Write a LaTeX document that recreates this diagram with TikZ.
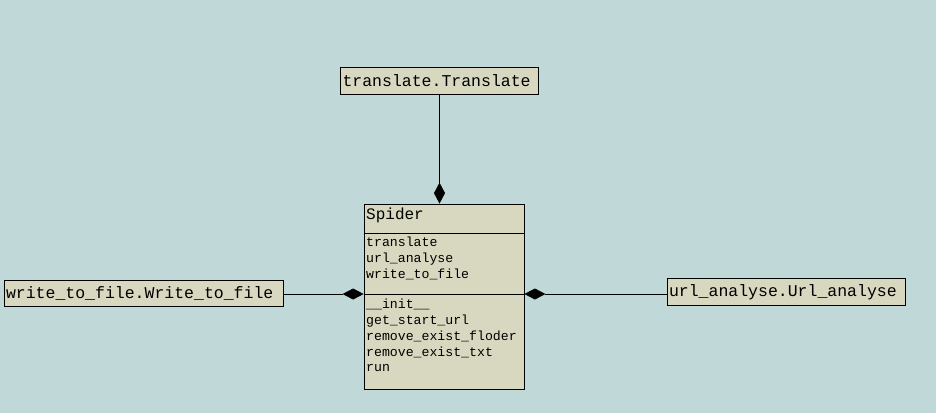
\documentclass[tikz,border=0pt]{standalone}
\usepackage{fontspec}
\newfontfamily\umlfont{Liberation Mono}
\usetikzlibrary{arrows.meta}

\definecolor{umlbg}{RGB}{192,216,216}
\definecolor{umlfill}{RGB}{216,216,192}

\tikzset{
    classbox/.style={draw=black, fill=umlfill, line width=0.8pt, inner ysep=0pt, inner xsep=2pt,
        align=left, font=\umlfont\fontsize{16.5}{18}\selectfont},
    members/.style={anchor=north west, align=left, inner sep=0pt,
        font=\umlfont\fontsize{13.2}{15.8}\selectfont},
    composition/.style={line width=0.8pt, -{Diamond[length=21pt,width=11pt]}},
}

\begin{document}
\begin{tikzpicture}[x=1pt,y=-1pt]

    \fill[umlbg] (0,0) rectangle (936,413);
    \useasboundingbox (0,0) rectangle (936,413);

    \node[classbox, text width=194pt, minimum height=27pt] (translate) at (439.5,80.5) {translate.Translate};
    \node[classbox, text width=275pt, minimum height=26pt] (writer) at (143.5,293) {write\_to\_file.Write\_to\_file};
    \node[classbox, text width=234pt, minimum height=27pt] (analyser) at (786,292) {url\_analyse.Url\_analyse};

    % Spider class and its compartments
    \node[classbox, minimum width=160pt, minimum height=185pt, inner sep=0pt] (spider) at (444,296.5) {};
    \draw[line width=0.8pt] (spider.west |- 0,233) -- (spider.east |- 0,233);
    \draw[line width=0.8pt] (spider.west |- 0,294) coordinate (opsW) -- (spider.east |- 0,294) coordinate (opsE);
    \node[members, anchor=west, font=\umlfont\fontsize{16}{18}\selectfont] (title) at (366,215) {Spider};
    \node[members] (attrs) at (366,237) {translate\\url\_analyse\\write\_to\_file};
    \node[members] (ops) at (366,299) {\_\_init\_\_\\get\_start\_url\\remove\_exist\_floder\\remove\_exist\_txt\\run};

    \draw[composition] (translate.south) -- (translate.south |- spider.north);
    \draw[composition] (writer.east |- opsW) -- (opsW);
    \draw[composition] (analyser.west |- opsE) -- (opsE);

\end{tikzpicture}
\end{document}
